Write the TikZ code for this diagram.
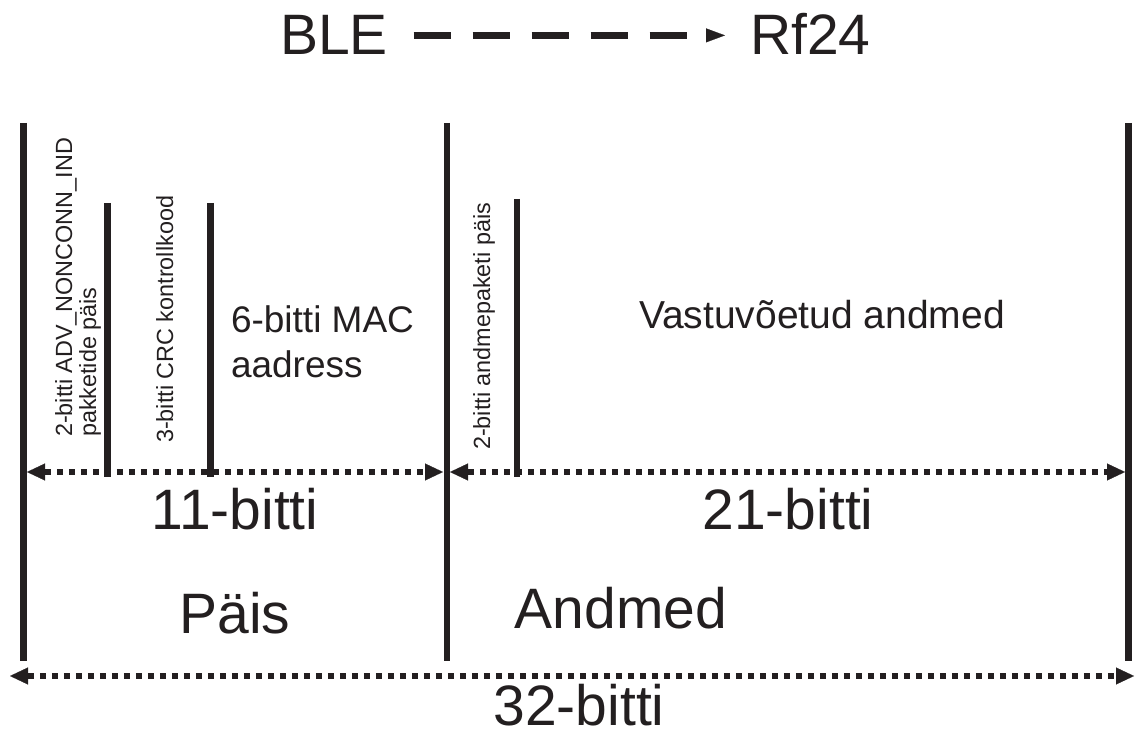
\documentclass[tikz,border=0pt]{standalone}
\usepackage{fontspec}
\setmainfont{Liberation Sans}
\usetikzlibrary{arrows.meta}
\definecolor{ink}{HTML}{231F20}
\begin{document}
\begin{tikzpicture}[x=0.5pt,y=-0.5pt,
  bar/.style={line width=3.3pt, draw=ink},
  dimtip/.tip={Triangle[length=9pt,width=8.5pt,line width=0.1pt]},
  dimline/.style={line width=3.4pt, draw=ink, dash pattern=on 3.25pt off 2.75pt, dimtip-dimtip},
  titlearrow/.style={line width=3.2pt, draw=ink, dash pattern=on 18.5pt off 11pt, -{Triangle[length=9.5pt,width=7pt,line width=0.1pt]}},
  txt/.style={inner sep=0pt, outer sep=0pt, text=ink},
  big/.style={txt, font=\fontsize{28.5}{32}\selectfont},
  mid/.style={txt, font=\fontsize{18.5}{20}\selectfont},
  small/.style={txt, font=\fontsize{11.7}{13}\selectfont, rotate=90, anchor=base west}]
\useasboundingbox (0,0) rectangle (1135,731);

% title
\node[big, anchor=base west] (ble) at (280,55) {BLE};
\node[big, anchor=base west] (rf) at (750,55) {Rf24};
\draw[titlearrow, shorten <=13pt, shorten >=12.5pt] (ble.east) -- (ble.east -| rf.west);

% vertical bars
\coordinate (t1) at (23.5,123);  \coordinate (b1) at (23.5,661);
\coordinate (t2) at (107.5,203); \coordinate (b2) at (107.5,477);
\coordinate (t3) at (210.5,203); \coordinate (b3) at (210.5,477);
\coordinate (t4) at (447,123);   \coordinate (b4) at (447,661);
\coordinate (t5) at (517,199);   \coordinate (b5) at (517,477);
\coordinate (t6) at (1128.5,123);\coordinate (b6) at (1128.5,661);
\draw[bar] (t1) -- (b1);
\draw[bar] (t2) -- (b2);
\draw[bar] (t3) -- (b3);
\draw[bar] (t4) -- (b4);
\draw[bar] (t5) -- (b5);
\draw[bar] (t6) -- (b6);

% dimension arrows
\coordinate (d1l) at (27,472);  \coordinate (d1r) at (443,472);
\coordinate (d2l) at (450,472); \coordinate (d2r) at (1125,472);
\coordinate (d3l) at (10,676);  \coordinate (d3r) at (1134,676);
\draw[dimline] (d1l) -- (d1r);
\draw[dimline] (d2l) -- (d2r);
\draw[dimline] (d3l) -- (d3r);

% labels
\node[big, anchor=base] (l11) at (235,530) {11-bitti};
\node[big, anchor=base] (l21) at (788,530) {21-bitti};
\node[big, anchor=base] (pais) at (235,633) {Päis};
\node[big, anchor=base] (andmed) at (621,629) {Andmed};
\node[big, anchor=base] (l32) at (579,725) {32-bitti};

\node[mid, anchor=base west] (mac1) at (231,333) {6-bitti MAC};
\node[mid, anchor=base west] (mac2) at (231,378) {aadress};
\node[mid, anchor=base, font=\fontsize{19.5}{22}\selectfont] (vast) at (822,329) {Vastuvõetud andmed};

\node[small] (r1a) at (72,437) {2-bitti ADV\_NONCONN\_IND};
\node[small] (r1b) at (96,437) {pakketide päis};
\node[small] (r2) at (173,443) {3-bitti CRC kontrollkood};
\node[small] (r3) at (490,450) {2-bitti andmepaketi päis};
\end{tikzpicture}
\end{document}
